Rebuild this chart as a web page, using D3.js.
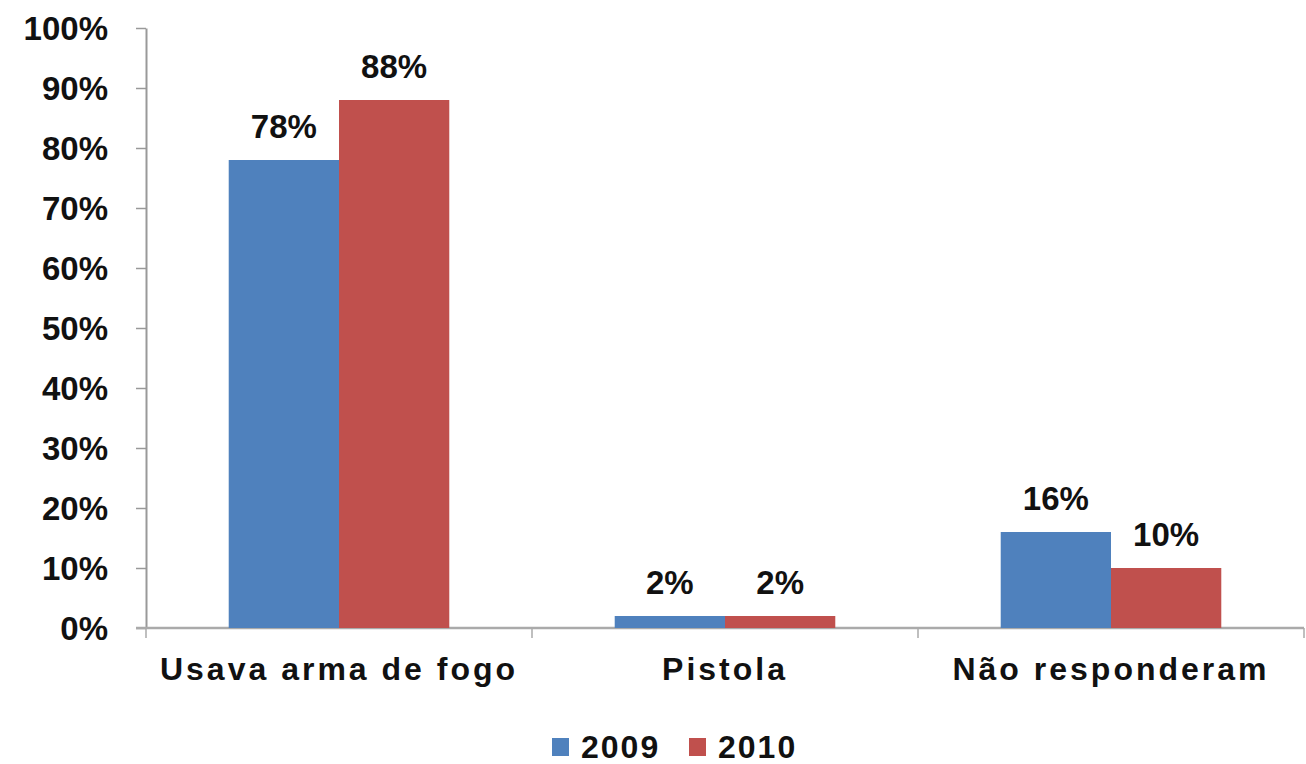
<!DOCTYPE html>
<html>
<head>
<meta charset="utf-8">
<script src="https://cdn.jsdelivr.net/npm/d3@7"></script>
<style>
  body { margin: 0; background: #fff; }
  svg { display: block; font-family: "Liberation Sans", Arial, sans-serif; }
</style>
</head>
<body>
<div id="chart"></div>
<script>
// data
const categories = ['Usava arma de fogo', 'Pistola', 'Não responderam'];
const years = ['2009', '2010'];
const values2009 = [78, 2, 16];
const values2010 = [88, 2, 10];
const yTicks = [0, 10, 20, 30, 40, 50, 60, 70, 80, 90, 100];
const colors = ['#4F81BD', '#C0504D'];

const width = 1306, height = 764;
const margin = {left: 146, right: 2, top: 28, bottom: 136};

const svg = d3.select('#chart').append('svg')
  .attr('width', width).attr('height', height);

let x = d3.scaleBand()
  .domain(categories)
  .range([margin.left, width - margin.right])
  .paddingInner(0).paddingOuter(0);

let xInner = d3.scaleBand()
  .domain(years)
  .range([0, x.bandwidth()])
  .paddingOuter(0.75).paddingInner(0);

let y = d3.scaleLinear()
  .domain([0, 100])
  .range([height - margin.bottom, margin.top]);

let rows = categories.map((c, i) => ({cat: c, vals: [values2009[i], values2010[i]]}));

/*
 * axes
 */
let yAxis = svg.append('g')
  .attr('transform', 'translate(' + margin.left + ',0)')
  .call(d3.axisLeft(y).tickValues(yTicks).tickSize(10).tickSizeOuter(0).tickFormat(d => d + '%'));
yAxis.select('.domain').attr('stroke', '#999').attr('stroke-width', 2);
yAxis.selectAll('.tick line').attr('stroke', '#999').attr('stroke-width', 1.5);
yAxis.selectAll('.tick text')
  .attr('x', -38)
  .attr('dy', '0.36em')
  .attr('fill', '#111')
  .style('font-size', '33px')
  .style('font-weight', 'bold');

let xAxis = svg.append('g')
  .attr('transform', 'translate(0,' + y(0) + ')');
xAxis.append('line')
  .attr('x1', margin.left - 10).attr('x2', width - margin.right)
  .attr('stroke', '#aaa').attr('stroke-width', 2.5);
xAxis.selectAll('.xtick')
  .data(categories.map(c => x(c)).concat([x.range()[1]]))
  .join('line')
  .attr('class', 'xtick')
  .attr('x1', d => d).attr('x2', d => d)
  .attr('y1', 0).attr('y2', 10)
  .attr('stroke', '#aaa').attr('stroke-width', 1.5);
xAxis.selectAll('.xlabel')
  .data(categories)
  .join('text')
  .attr('class', 'xlabel')
  .attr('x', d => x(d) + x.bandwidth() / 2)
  .attr('y', 52)
  .attr('text-anchor', 'middle')
  .attr('fill', '#111')
  .style('font-size', '32px')
  .style('font-weight', 'bold')
  .style('letter-spacing', '3px')
  .text(d => d);

/*
 * bars
 */
let groups = svg.append('g').selectAll('g')
  .data(rows)
  .join('g')
  .attr('transform', d => 'translate(' + x(d.cat) + ',0)');

groups.selectAll('rect')
  .data(d => d.vals.map((v, i) => ({year: years[i], v: v, i: i})))
  .join('rect')
  .attr('x', d => xInner(d.year))
  .attr('width', xInner.bandwidth())
  .attr('y', d => y(d.v))
  .attr('height', d => y(0) - y(d.v))
  .attr('fill', d => colors[d.i]);

groups.selectAll('text')
  .data(d => d.vals.map((v, i) => ({year: years[i], v: v})))
  .join('text')
  .attr('x', d => xInner(d.year) + xInner.bandwidth() / 2)
  .attr('y', d => y(d.v) - 22)
  .attr('text-anchor', 'middle')
  .attr('fill', '#111')
  .style('font-size', '33px')
  .style('font-weight', 'bold')
  .text(d => d.v + '%');

/*
 * legend
 */
let legend = svg.append('g').attr('transform', 'translate(552,738)');
let li = legend.selectAll('g')
  .data(years)
  .join('g')
  .attr('transform', (d, i) => 'translate(' + (i * 137) + ',0)');
li.append('rect')
  .attr('width', 17).attr('height', 18)
  .attr('fill', (d, i) => colors[i]);
li.append('text')
  .attr('x', 29).attr('y', 20)
  .attr('fill', '#111')
  .style('font-size', '32px')
  .style('font-weight', 'bold')
  .style('letter-spacing', '2px')
  .text(d => d);
</script>
</body>
</html>
